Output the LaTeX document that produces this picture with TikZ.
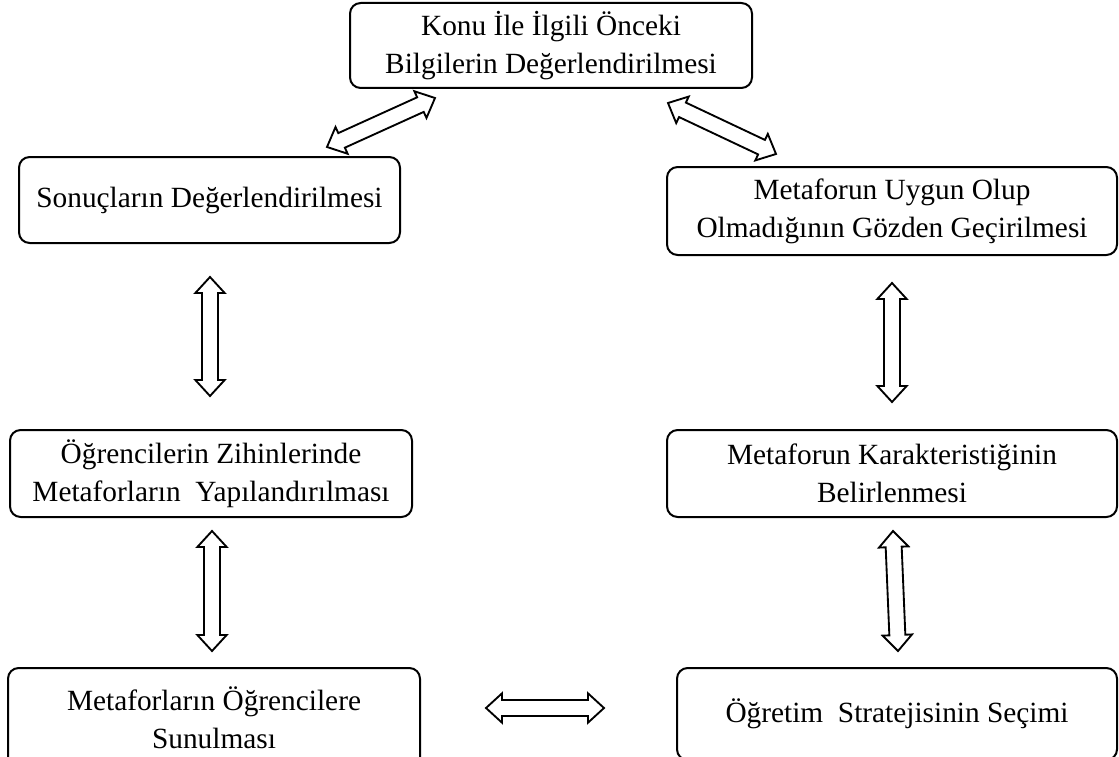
\documentclass[tikz,border=0pt]{standalone}
\usepackage{fontspec}
\setmainfont{Liberation Serif}
\usetikzlibrary{calc}
\begin{document}
\begin{tikzpicture}[x=0.75pt,y=-0.75pt,
  stage/.style={draw=black, line width=1.5pt, rounded corners=8pt, fill=white,
    align=center, inner sep=0pt, font=\fontsize{22}{28.5}\selectfont},
  % hollow double-headed block arrow between two points
  blockarrow/.style={draw=black, line width=1.4pt, fill=white, line join=miter,
    to path={
      let \p1=(\tikztostart), \p2=(\tikztotarget),
          \n1={atan2(\y2-\y1,\x2-\x1)} in
      -- ($(\p1)+(\n1:12pt)+(\n1+90:11pt)$)
      -- ($(\p1)+(\n1:12pt)+(\n1+90:6pt)$)
      -- ($(\p2)+(\n1+180:12pt)+(\n1+90:6pt)$)
      -- ($(\p2)+(\n1+180:12pt)+(\n1+90:11pt)$)
      -- (\p2)
      -- ($(\p2)+(\n1+180:12pt)+(\n1-90:11pt)$)
      -- ($(\p2)+(\n1+180:12pt)+(\n1-90:6pt)$)
      -- ($(\p1)+(\n1:12pt)+(\n1-90:6pt)$)
      -- ($(\p1)+(\n1:12pt)+(\n1-90:11pt)$)
      -- cycle}}
]
\path[use as bounding box] (0,0) rectangle (1119,756);
\clip (0,0) rectangle (1119,756);

% stages of the cycle
\node[stage, minimum width=301.5pt, minimum height=63.75pt] (top) at (551,45.5)
  {Konu İle İlgili Önceki\\Bilgilerin Değerlendirilmesi};
\node[stage, minimum width=285.75pt, minimum height=64.5pt] (sonuc) at (209.5,200)
  {Sonuçların Değerlendirilmesi};
\node[stage, minimum width=337.5pt, minimum height=66pt] (uygun) at (892,211)
  {Metaforun Uygun Olup\\Olmadığının Gözden Geçirilmesi};
\node[stage, minimum width=301.5pt, minimum height=65.25pt] (zihin) at (211,473.5)
  {Öğrencilerin Zihinlerinde\\Metaforların\ \ Yapılandırılması};
\node[stage, minimum width=337.5pt, minimum height=65.25pt] (karak) at (892,473.5)
  {Metaforun Karakteristiğinin\\Belirlenmesi};
\node[stage, minimum width=309pt, minimum height=75pt] (sunul) at (214,718)
  {Metaforların Öğrencilere\\Sunulması};
\node[stage, minimum width=330pt, minimum height=69pt] (strat) at (897,714)
  {Öğretim\ \ Stratejisinin Seçimi};

% connectors
\draw[blockarrow] ($(sonuc.north east)+(-74,-9)$) to ($(top.south west)+(86,9)$);
\draw[blockarrow] ($(top.south east)+(-85,14)$) to ($(uygun.north west)+(110,-12)$);
\draw[blockarrow] ($(sonuc.south)+(0.5,33)$) to ($(zihin.north)+(-1,-33)$);
\draw[blockarrow] ($(zihin.south)+(1,13)$) to ($(sunul.north)+(-2,-16)$);
\draw[blockarrow] ($(uygun.south)+(0,27)$) to ($(karak.north)+(0,-27)$);
\draw[blockarrow] ($(karak.south)+(1,13)$) to ($(strat.north)+(1,-16)$);
\draw[blockarrow] ($(sunul.east)+(65,-10)$) to ($(strat.west)+(-72,-6)$);
\end{tikzpicture}
\end{document}
